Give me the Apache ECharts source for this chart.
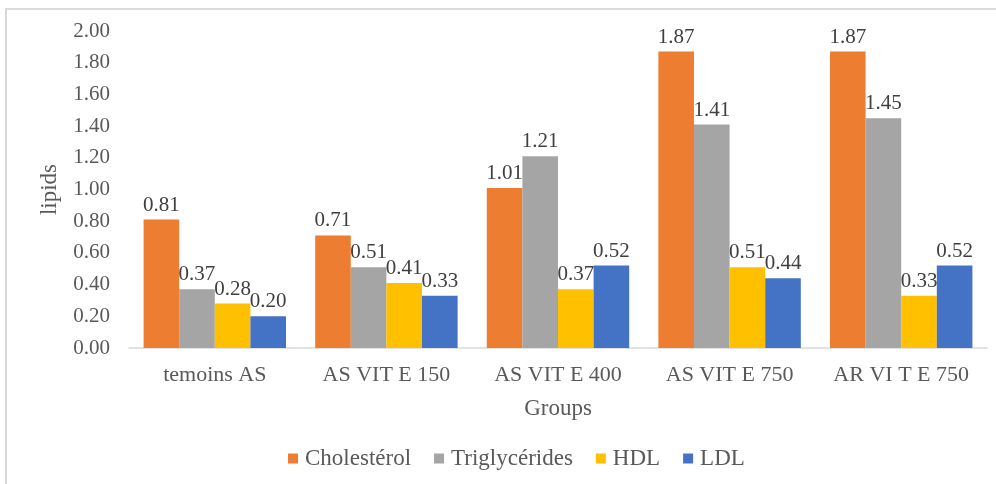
<!DOCTYPE html>
<html><head><meta charset="utf-8">
<script src="https://cdn.jsdelivr.net/npm/echarts@6/dist/echarts.min.js"></script>
<style>html,body{margin:0;padding:0;background:#fff}#c{width:996px;height:484px}</style>
</head><body><div id="c"></div>
<script>
const categories = ['temoins AS', 'AS VIT E 150', 'AS VIT E 400', 'AS VIT E 750', 'AR VI T E 750'];
const cholesterol = [0.81, 0.71, 1.01, 1.87, 1.87];
const triglycerides = [0.37, 0.51, 1.21, 1.41, 1.45];
const hdl = [0.28, 0.41, 0.37, 0.51, 0.33];
const ldl = [0.20, 0.33, 0.52, 0.44, 0.52];
const seriesNames = ['Cholestérol', 'Triglycérides', 'HDL', 'LDL'];
const colors = ['#ED7D31', '#A5A5A5', '#FFC000', '#4472C4'];
const font = 'Liberation Serif';
const chart = echarts.init(document.getElementById('c'));
const mk = (name, data, color) => ({
  name, type: 'bar', data, barGap: '0%', barCategoryGap: '17%',
  itemStyle: { color },
  label: { show: true, position: 'top', distance: 4, formatter: p => p.value.toFixed(2),
    fontFamily: font, fontSize: 21, color: '#404040' }
});
chart.setOption({
  animation: false,
  graphic: [{ type: 'rect', shape: { x: 6, y: 9, width: 1100, height: 600 },
    style: { fill: 'none', stroke: '#d9d9d9', lineWidth: 2 } }],
  grid: { left: 129, right: 9, top: 31, bottom: 136 },
  legend: { bottom: 9, left: 283, icon: 'rect', itemWidth: 10, itemHeight: 10, itemGap: 23,
    textStyle: { fontFamily: font, fontSize: 23, color: '#595959', padding: [0, 0, 0, 2] }, data: seriesNames },
  xAxis: { type: 'category', data: categories, name: 'Groups', nameLocation: 'middle', nameGap: 49,
    nameTextStyle: { fontFamily: font, fontSize: 23, color: '#595959' },
    axisLine: { lineStyle: { color: '#d9d9d9', width: 1.5 } }, axisTick: { show: false },
    axisLabel: { interval: 0, fontFamily: font, fontSize: 22, color: '#595959', margin: 16 } },
  yAxis: { type: 'value', min: 0, max: 2, interval: 0.2, name: 'lipids', nameLocation: 'middle', nameGap: 68,
    nameTextStyle: { fontFamily: font, fontSize: 23, color: '#595959' },
    splitLine: { show: false }, axisLine: { show: false }, axisTick: { show: false },
    axisLabel: { fontFamily: font, fontSize: 21, color: '#595959', margin: 19, formatter: v => v.toFixed(2) } },
  series: [mk(seriesNames[0], cholesterol, colors[0]), mk(seriesNames[1], triglycerides, colors[1]),
    mk(seriesNames[2], hdl, colors[2]), mk(seriesNames[3], ldl, colors[3])]
});
</script></body></html>
